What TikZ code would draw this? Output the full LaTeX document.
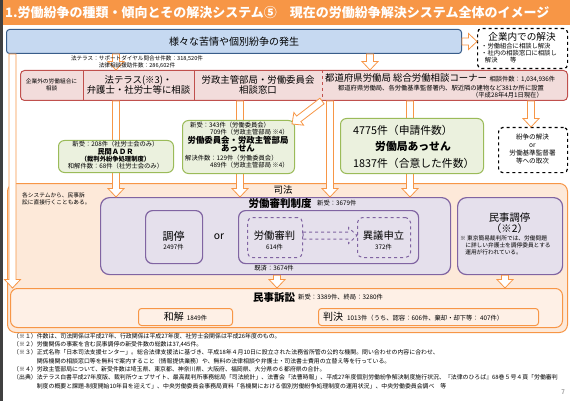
\documentclass[tikz,border=0pt]{standalone}
\usepackage{fontspec}
\setmainfont{Noto Sans CJK JP}
\usetikzlibrary{calc}

\definecolor{slideOrange}{HTML}{F79646}
\definecolor{slideEdge}{HTML}{404040}
\definecolor{peachFill}{HTML}{FDE9D9}
\definecolor{suitFill}{HTML}{FEF0E6}
\definecolor{blueFill}{HTML}{C6D9F1}
\definecolor{blueLine}{HTML}{385D8A}
\definecolor{pinkFill}{HTML}{F2DCDB}
\definecolor{pinkLine}{HTML}{C0504D}
\definecolor{greenFill}{HTML}{EBF1DE}
\definecolor{greenLine}{HTML}{9BBB59}
\definecolor{lilacFill}{HTML}{E5E0EC}
\definecolor{lilacLine}{HTML}{8064A2}

% sizes of the hollow block arrows
\newcommand{\blkw}{3.5pt}
\newcommand{\blkW}{8pt}
\newcommand{\blkL}{8.5pt}

\tikzset{
    % Title bar
    titlebar/.style={fill=slideOrange, anchor=north west, inner sep=0pt},
    titletext/.style={anchor=west, inner sep=0pt, text=white,
        font=\fontsize{13}{15}\selectfont\bfseries},
    % Boxes (placed by their top left corner)
    bluebox/.style={anchor=north west, draw=blueLine, fill=blueFill,
        line width=1pt, rounded corners=3pt, inner sep=0pt,
        font=\fontsize{10}{12}\selectfont},
    dashbox/.style={anchor=north west, draw=black, fill=white, dashed,
        line width=1.2pt, rounded corners=4pt, inner sep=0pt},
    pinkbox/.style={anchor=north west, draw=pinkLine, fill=pinkFill,
        line width=1pt, rounded corners=4pt, inner sep=0pt},
    divider/.style={draw=pinkLine, line width=1pt},
    greenbox/.style={anchor=north west, draw=greenLine, fill=greenFill,
        line width=1pt, rounded corners=6pt, inner sep=0pt},
    shihobox/.style={anchor=north west, draw=slideOrange, fill=peachFill,
        line width=1pt, rounded corners=8pt, inner sep=0pt},
    suitbox/.style={anchor=north west, draw=slideOrange, fill=suitFill,
        line width=1pt, rounded corners=7pt, inner sep=0pt},
    resultbox/.style={anchor=north west, draw=slideOrange, line width=1pt,
        rounded corners=3pt, inner sep=0pt},
    lilacbox/.style={anchor=north west, draw=lilacLine, fill=lilacFill,
        line width=1.2pt, rounded corners=9pt, inner sep=0pt},
    lilacinner/.style={anchor=north west, draw=lilacLine, line width=1.2pt,
        rounded corners=7pt, inner sep=0pt},
    lilacdash/.style={anchor=north west, draw=lilacLine, dashed,
        line width=1pt, rounded corners=5pt, inner sep=0pt},
    % Texts
    tinytext/.style={inner sep=0pt, font=\fontsize{5.7}{7}\selectfont},
    smalltext/.style={inner sep=0pt, font=\fontsize{6.3}{7.3}\selectfont},
    keytext/.style={inner sep=0pt, font=\fontsize{6.6}{7.7}\selectfont},
    midtext/.style={inner sep=0pt, font=\fontsize{9.4}{10}\selectfont},
    labeltext/.style={inner sep=0pt, font=\fontsize{10.3}{12}\selectfont},
    boldtext/.style={inner sep=0pt, font=\fontsize{10.5}{12}\selectfont\bfseries},
    bigtext/.style={inner sep=0pt, font=\fontsize{10.8}{16.5}\selectfont},
    % Hollow block arrow drawn from start to target
    blkarrow/.style={draw=slideOrange, fill=white, line width=0.8pt,
        to path={let \p1=(\tikztostart), \p2=(\tikztotarget),
            \n1={veclen(\x2-\x1,\y2-\y1)}, \n2={(\x2-\x1)/\n1},
            \n3={(\y2-\y1)/\n1} in
            ({\x1-\blkw*\n3},{\y1+\blkw*\n2})
            -- ({\x2-\blkL*\n2-\blkw*\n3},{\y2-\blkL*\n3+\blkw*\n2})
            -- ({\x2-\blkL*\n2-\blkW*\n3},{\y2-\blkL*\n3+\blkW*\n2})
            -- (\p2)
            -- ({\x2-\blkL*\n2+\blkW*\n3},{\y2-\blkL*\n3-\blkW*\n2})
            -- ({\x2-\blkL*\n2+\blkw*\n3},{\y2-\blkL*\n3-\blkw*\n2})
            -- ({\x1+\blkw*\n3},{\y1-\blkw*\n2}) -- cycle}},
    % Dashed hollow arrow
    dasharrow/.style={blkarrow, draw=lilacLine, fill=none, dashed,
        line width=1pt}
}

\begin{document}
\begin{tikzpicture}[x=1pt, y=-1pt]
\useasboundingbox (0,0) rectangle (570,401);
% slide edge and title
\fill[slideEdge] (0,0) rectangle (2.5,401);
\node[titlebar, minimum width=567.5pt, minimum height=25pt] (titlebar) at (2.5,0) {};
\node[titletext] (title) at (5,13) {1.労働紛争の種類・傾向とその解決システム⑤　現在の労働紛争解決システム全体のイメージ};

% where disputes start
\node[bluebox, minimum width=455pt, minimum height=24pt] (hassei) at (6,29) {様々な苦情や個別紛争の発生};
\node[dashbox, minimum width=90pt, minimum height=40pt] (kigyonai) at (477,28) {};
\node[labeltext, font=\fontsize{9.6}{11}\selectfont] (kigyonaiT) at (522,36.5) {企業内での解決};
\node[smalltext, font=\fontsize{6.3}{7}\selectfont, anchor=north west, align=left] (kigyonaiL) at (481,43.5) {・労働組合に相談し解決\\・社内の相談窓口に相談し\\\hspace*{0.6em}解決\hspace{2em}等};

% consultation windows
\node[pinkbox, minimum width=547pt, minimum height=30pt] (soudan) at (20,70) {};
\draw[divider] (soudan.north west) ++(63,0) -- ++(0,30);
\draw[divider] (soudan.north west) ++(174,0) -- ++(0,30);
\draw[divider, dashed] (soudan.north west) ++(302,0) -- ++(0,30);
\node[tinytext, align=center] (kumiai) at (51.5,84.5) {企業外の労働組合に\\相談};
\node[midtext, align=center] (hoterasu) at (138.5,85) {法テラス(※3)・\\弁護士・社労士等に相談};
\node[midtext, align=center] (rosei) at (258,85) {労政主管部局・労働委員会\\相談窓口};
\node[midtext, anchor=west] (kyoku) at (325,78) {都道府県労働局 総合労働相談コーナー};
\node[smalltext, anchor=base west] (kyokuN) at ([xshift=2pt]kyoku.base east) {相談件数：1,034,936件};
\node[smalltext] (kyokuP) at (441,88) {都道府県労働局、各労働基準監督署内、駅近隣の建物など381か所に設置};
\node[smalltext, anchor=east] (kyokuD) at (543,95) {（平成28年4月1日現在）};

% court
\node[shihobox, minimum width=560pt, minimum height=149pt] (shiho) at (7,183) {};
\node[midtext] (shihoT) at (283,190) {司法};
\node[tinytext, anchor=north west, align=left] (chokusetsu) at (22,192) {各システムから、民事訴\\訟に直接行くこともある。};
\node[suitbox, minimum width=552pt, minimum height=39pt] (minji) at (10,288) {};
\node[lilacbox, minimum width=350pt, minimum height=77pt] (shinpan) at (100,197) {};
\node[lilacbox, minimum width=105pt, minimum height=77pt] (mincho) at (457,197) {};

% arrow columns
\coordinate (colL) at (12.5,0);
\coordinate (colB) at (116,0);
\coordinate (colC) at (240,0);
\coordinate (colD) at (330,0);
\coordinate (colK) at (370,0);
\coordinate (colE) at (410,0);
\coordinate (colF) at (531,0);
\coordinate (colG) at (322,0);
\coordinate (colM) at (277,0);
\coordinate (colN) at (505,0);

\draw[blkarrow] (hassei.east) to (hassei.east -| kigyonai.west);
\draw[blkarrow] (hassei.south -| colB) to (soudan.north -| colB);
\draw[blkarrow] (hassei.south -| colK) to (soudan.north -| colK);
\draw[blkarrow] (hassei.south -| colL) to (minji.north -| colL);
\draw[blkarrow] (soudan.south -| colB) to (shinpan.north -| colB);
\draw[blkarrow] (soudan.south -| colC) to (shinpan.north -| colC);
\draw[blkarrow] (soudan.south -| colD) to (shinpan.north -| colD);
\draw[blkarrow] (soudan.south -| colE) to (shinpan.north -| colE);
\draw[blkarrow] (shinpan.south -| colM) to (minji.north -| colM);
\draw[blkarrow] (mincho.south -| colN) to (minji.north -| colN);
\node[inner sep=0pt, font=\fontsize{5.6}{7}\selectfont, anchor=north, align=center] (stats) at (137,55.5) {法テラス：サポートダイヤル問合せ件数：318,520件\\法律相談援助件数：286,602件};

% mediation bodies
\node[greenbox, minimum width=115pt, minimum height=32pt] (adr) at (58,140) {};
\node[smalltext, align=center] (adrT) at (115.5,155.5) {新受：208件（社労士会のみ）\\{\bfseries\fontsize{7.2}{8}\selectfont 民間ＡＤＲ}\\{\bfseries （裁判外紛争処理制度）}\\和解件数：68件（社労士会のみ）};
\node[greenbox, minimum width=112pt, minimum height=53pt] (assen) at (182,120) {};
\node[smalltext, anchor=north west, align=left] (assenN) at (190,122) {新受：343件（労働委員会）\\\hspace*{20pt}709件（労政主管部局 ※4）};
\node[smalltext, font=\fontsize{8.4}{8.2}\selectfont\bfseries, align=center] (assenT) at (238,144) {労働委員会・労政主管部局\\あっせん};
\node[smalltext, anchor=north west, align=left] (assenK) at (185,155) {解決件数：129件（労働委員会）\\\hspace*{25pt}489件（労政主管部局 ※4）};
\node[greenbox, minimum width=143pt, minimum height=55pt] (kyokuA) at (340,118) {};
\node[bigtext, anchor=west, align=left] (kyokuAT) at (353,146.5) {4775件（申請件数）\\\hspace*{22pt}{\bfseries 労働局あっせん}\\1837件（合意した件数）};
\node[dashbox, minimum width=69pt, minimum height=45pt] (funso) at (498,127) {};
\node[keytext, align=center] (funsoT) at (532.5,149) {紛争の解決\\or\\労働基準監督署\\等への取次};
\draw[blkarrow] (soudan.south -| colF) to (funso.north -| colF);
\draw[blkarrow] (soudan.south -| colG) to ([xshift=-3pt,yshift=-4pt]assen.north east);

% labour tribunal
\node[boldtext] (shinpanT) at (280,203.5) {労働審判制度};
\node[smalltext, anchor=west] (shinpanN) at (317,203.5) {新受：3679件};
\node[lilacinner, minimum width=57pt, minimum height=53pt] (chotei) at (145,210) {};
\node[labeltext, font=\fontsize{11}{12}\selectfont] (choteiT) at (173.5,236) {調停};
\node[smalltext] (choteiN) at (173.5,247) {2497件};
\node[labeltext] (orT) at (219,237) {or};
\node[lilacinner, minimum width=180pt, minimum height=53pt] (shinpanIn) at (238,210) {};
\node[lilacdash, minimum width=55pt, minimum height=40pt] (rshinpan) at (247,217) {};
\node[labeltext] (rshinpanT) at (274.5,236) {労働審判};
\node[smalltext] (rshinpanN) at (274.5,247) {614件};
\node[lilacdash, minimum width=53pt, minimum height=40pt] (igi) at (357,217) {};
\node[labeltext] (igiT) at (383.5,236) {異議申立};
\node[smalltext] (igiN) at (383.5,247) {372件};
\draw[dasharrow] ([yshift=2pt]rshinpan.east) to ([yshift=2pt]igi.west);
\node[smalltext] (kisai) at (274,268) {既済：3674件};

% civil conciliation
\node[labeltext] (minchoT) at (509.5,218) {民事調停};
\node[labeltext] (minchoR) at (509.5,229) {（※2）};
\node[tinytext, anchor=north west, align=left] (minchoN) at (460,235) {※ 東京簡易裁判所では、労働問題\\\hspace*{0.9em}に詳しい弁護士を調停委員とする\\\hspace*{0.9em}運用が行われている。};

% civil suit
\node[boldtext] (minjiT) at (274,297.5) {民事訴訟};
\node[smalltext, anchor=west] (minjiN) at (298,297.5) {新受：3389件、終局：3280件};
\node[resultbox, minimum width=94pt, minimum height=17pt] (wakai) at (138,308) {\fontsize{10}{12}\selectfont 和解\hspace{3pt}{\fontsize{6.3}{7}\selectfont 1849件}};
\node[resultbox, minimum width=220pt, minimum height=17pt] (hanketsu) at (318,308) {};
\node[anchor=west, inner sep=0pt] (hanketsuT) at (323,316.5) {\fontsize{10}{12}\selectfont 判決\hspace{4pt}{\fontsize{6.3}{7}\selectfont 1013件（うち、認容：606件、棄却・却下等： 407件）}};

% notes
\node[anchor=north west, inner sep=0pt, align=left, font=\fontsize{5.9}{8.3}\selectfont] (notes) at (13,333) {%
（※１）件数は、司法関係は平成27年、行政関係は平成27年度、社労士会関係は平成26年度のもの。\\
（※２）労働関係の事案を含む民事調停の新受件数の総数は37,445件。\\
（※３）正式名称「日本司法支援センター」。総合法律支援法に基づき、平成18年４月10日に設立された法務省所管の公的な機関。問い合わせの内容に合わせ、\\
　　　　関係機関の相談窓口等を無料で案内すること（情報提供業務）や、無料の法律相談や弁護士・司法書士費用の立替え等を行っている。\\
（※４）労政主管部局について、新受件数は埼玉県、東京都、神奈川県、大阪府、福岡県、大分県の６都府県の合計。\\
（出典）法テラス白書平成27年度版、裁判所ウェブサイト、最高裁判所事務総局「司法統計」、法曹会「法曹時報」、平成27年度個別労働紛争解決制度施行状況、『法律のひろば』68巻５号４頁「労働審判\\
　　　　制度の概要と課題-制度開始10年目を迎えて」、中央労働委員会事務局資料「各機関における個別労働紛争処理制度の運用状況」、中央労働委員会調べ　等};
\node[smalltext, text=black!60] (pageno) at (563,392) {7};
\end{tikzpicture}
\end{document}
